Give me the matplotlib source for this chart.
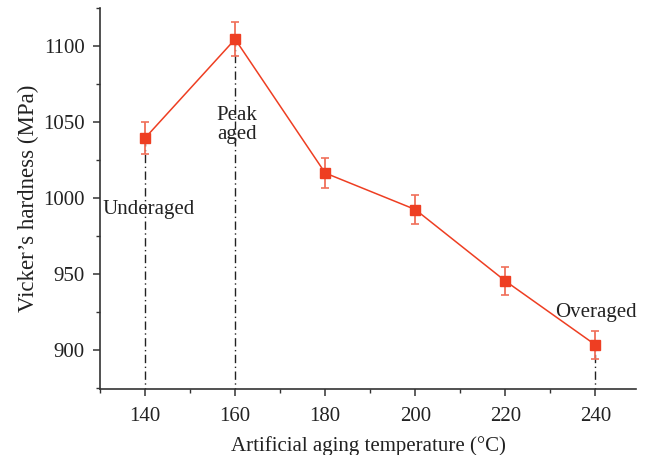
import matplotlib
matplotlib.use("Agg")
import matplotlib.pyplot as plt
from matplotlib.ticker import MultipleLocator

temps = [140, 160, 180, 200, 220, 240]
hardness = [1039.5, 1104.5, 1016.5, 992.5, 945.5, 903.5]
errors = [10.5, 11, 10, 9.5, 9.5, 9]
marked_temps = [140, 160, 240]
marked_vals = [1039.5, 1104.5, 903.5]
labels = ["Underaged", "Peak\naged", "Overaged"]
label_pos = [(140.9, 992.5), (160.4, 1048), (240.2, 924.5)]

plt.rcParams['font.family'] = ['Liberation Serif', 'DejaVu Serif']
fig = plt.figure(figsize=(6.48, 4.55), dpi=100)
ax = fig.add_axes([100/648, 66/455, 536/648, 381/455])

color = '#ee3e22'
for t, v in zip(marked_temps, marked_vals):
    ax.plot([t, t], [870, v], color='#222222', lw=1.0, ls=(0, (6, 2.5, 1, 2.5)), zorder=1)

ax.errorbar(temps, hardness, yerr=errors, color=color, lw=1.1, marker='s', ms=7.5,
            mfc=color, mec=color, ecolor='#f0705a', elinewidth=1.3, capsize=3, capthick=1.2, zorder=3)

for (x, y), s in zip(label_pos, labels):
    ax.text(x, y, s, ha='center', va='center', fontsize=15, color='#222222', linespacing=1.05)

ax.set_xlim(130, 249)
ax.set_ylim(874.5, 1125)
ax.xaxis.set_major_locator(MultipleLocator(20))
ax.xaxis.set_minor_locator(MultipleLocator(10))
ax.yaxis.set_major_locator(MultipleLocator(50))
ax.yaxis.set_minor_locator(MultipleLocator(25))
for s in ['top', 'right']:
    ax.spines[s].set_visible(False)
for s in ['left', 'bottom']:
    ax.spines[s].set_color('#333333')
    ax.spines[s].set_linewidth(1.2)
ax.tick_params(which='major', direction='out', length=5, width=1.1, colors='#333333', labelsize=15, labelcolor='#222222')
ax.tick_params(axis='x', which='major', pad=8)
ax.tick_params(axis='y', which='major', pad=6)
ax.tick_params(which='minor', direction='out', length=3, width=1.0, colors='#333333')
ax.set_xlabel('Artificial aging temperature (°C)', fontsize=15, color='#222222', labelpad=7)
ax.set_ylabel('Vicker’s hardness (MPa)', fontsize=16.5, color='#222222', labelpad=3)

fig.savefig('out.png', dpi=100)
